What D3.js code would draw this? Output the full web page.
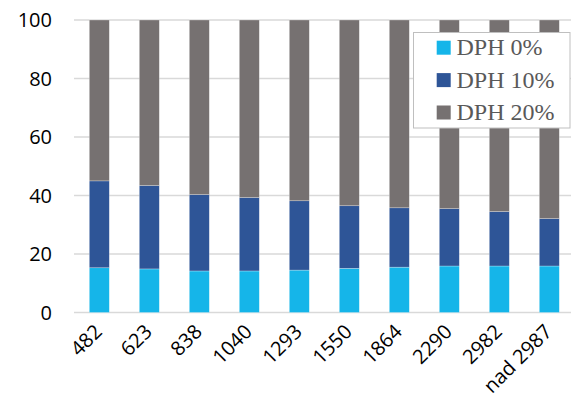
<!DOCTYPE html>
<html>
<head>
<meta charset="utf-8">
<script src="https://cdn.jsdelivr.net/npm/d3@7"></script>
<style>
  body { margin: 0; background: #fff; }
  svg { display: block; }
</style>
</head>
<body>
<div id="chart"></div>
<script>
// --- Data ---
const categories = ["482", "623", "838", "1040", "1293", "1550", "1864", "2290", "2982", "nad 2987"];
const seriesNames = ["DPH 0%", "DPH 10%", "DPH 20%"];
const dph0 = [15.3, 14.9, 14.2, 14.2, 14.5, 15.1, 15.5, 15.9, 15.9, 15.9];
const dph10 = [29.7, 28.5, 26.1, 25.1, 23.7, 21.4, 20.3, 19.6, 18.6, 16.2];
const dph20 = [55.0, 56.6, 59.7, 60.7, 61.8, 63.5, 64.2, 64.5, 65.5, 67.9];
const yTicks = [0, 20, 40, 60, 80, 100];
const colors = ["#15b5e9", "#2e5597", "#767171"];

const W = 571, H = 400;

// table for the stack layout
const rows = categories.map((c, i) => ({
  cat: c, "DPH 0%": dph0[i], "DPH 10%": dph10[i], "DPH 20%": dph20[i]
}));

const svg = d3.select("#chart").append("svg")
  .attr("width", W)
  .attr("height", H);

// --- Scales ---
const x = d3.scaleBand()
  .domain(categories)
  .range([74.3, 574.3])
  .paddingInner(0.6)
  .paddingOuter(0.3);

const y = d3.scaleLinear()
  .domain([0, 100])
  .range([312.5, 20]);

// --- Gridlines ---
svg.append("g")
  .selectAll("line")
  .data(yTicks)
  .join("line")
  .attr("x1", 74)
  .attr("x2", W)
  .attr("y1", d => y(d))
  .attr("y2", d => y(d))
  .attr("stroke", "#d9d9d9")
  .attr("stroke-width", 1.3);

// --- Y labels ---
svg.append("g")
  .selectAll("text")
  .data(yTicks)
  .join("text")
  .attr("x", 52)
  .attr("y", d => y(d) + 7)
  .attr("text-anchor", "end")
  .style("font-family", "'Open Sans', sans-serif")
  .style("font-size", "20px")
  .style("fill", "#000")
  .text(d => d);

// --- Stacked bars ---
const stacked = d3.stack().keys(seriesNames)(rows);

svg.append("g")
  .selectAll("g")
  .data(stacked)
  .join("g")
  .attr("fill", (d, i) => colors[i])
  .selectAll("rect")
  .data(d => d)
  .join("rect")
  .attr("x", d => x(d.data.cat))
  .attr("width", x.bandwidth())
  .attr("y", d => y(d[1]))
  .attr("height", d => y(d[0]) - y(d[1]))
  .attr("stroke", "rgba(255,255,255,0.45)")
  .attr("stroke-width", 0.6);

// --- X labels (rotated) ---
svg.append("g")
  .selectAll("text")
  .data(categories)
  .join("text")
  .attr("transform", d => `translate(${x(d) + x.bandwidth() / 2 + 4},333) rotate(-45)`)
  .attr("text-anchor", "end")
  .style("font-family", "'Open Sans', sans-serif")
  .style("font-size", "20px")
  .style("fill", "#000")
  .text(d => d);

// --- Legend ---
const legend = svg.append("g");
legend.append("rect")
  .attr("x", 413.5)
  .attr("y", 32.5)
  .attr("width", 156.5)
  .attr("height", 95.5)
  .attr("fill", "#fff")
  .attr("stroke", "#bfbfbf")
  .attr("stroke-width", 1);

const item = legend.selectAll("g")
  .data(seriesNames)
  .join("g")
  .attr("transform", (d, i) => `translate(0,${47.7 + i * 32.4})`);

item.append("rect")
  .attr("x", 436.7)
  .attr("y", -7)
  .attr("width", 14)
  .attr("height", 14)
  .attr("fill", (d, i) => colors[i]);

item.append("text")
  .attr("x", 456.5)
  .attr("y", 7.5)
  .style("font-family", "'Liberation Serif', serif")
  .style("font-size", "24px")
  .style("fill", "#595959")
  .text(d => d);
</script>
</body>
</html>
